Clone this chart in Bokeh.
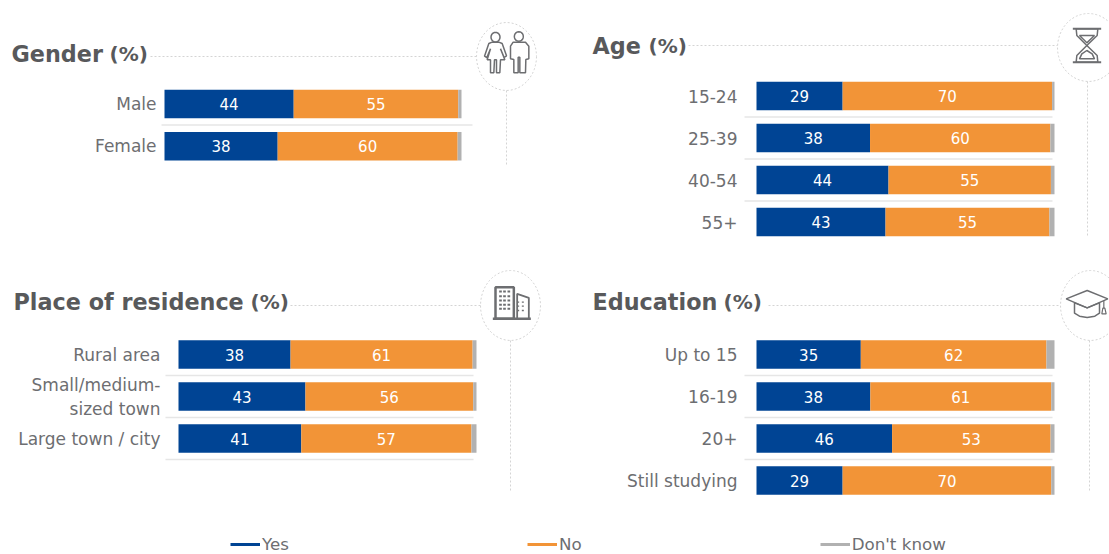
import math
from bokeh.plotting import figure
from bokeh.layouts import column, row
from bokeh.models import (ColumnDataSource, Range1d, FixedTicker, Label, Arrow,
                          Legend, LegendItem)
from bokeh.core.properties import value
from bokeh.embed import file_html
from bokeh.resources import INLINE

# ---- data -------------------------------------------------------------
gender_cats = ["Male", "Female"]
gender_yes = [43.5, 38.1]
gender_no = [55.4, 60.6]
gender_dk = [1.1, 1.3]
gender_yes_labels = ["44", "38"]
gender_no_labels = ["55", "60"]

age_cats = ["15-24", "25-39", "40-54", "55+"]
age_yes = [28.9, 38.1, 44.3, 43.3]
age_no = [70.3, 60.5, 54.5, 55.0]
age_dk = [0.8, 1.4, 1.2, 1.7]
age_yes_labels = ["29", "38", "44", "43"]
age_no_labels = ["70", "60", "55", "55"]

place_cats = ["Rural area", "Small/medium-\nsized town", "Large town / city"]
place_yes = [37.6, 42.6, 41.2]
place_no = [61.1, 56.3, 57.1]
place_dk = [1.3, 1.1, 1.7]
place_yes_labels = ["38", "43", "41"]
place_no_labels = ["61", "56", "57"]

edu_cats = ["Up to 15", "16-19", "20+", "Still studying"]
edu_yes = [35.0, 38.2, 45.5, 28.9]
edu_no = [62.3, 60.7, 53.2, 70.0]
edu_dk = [2.7, 1.1, 1.3, 1.1]
edu_yes_labels = ["35", "38", "46", "29"]
edu_no_labels = ["62", "61", "53", "70"]

series_names = ["Yes", "No", "Don't know"]
series_colors = ["#004494", "#F29437", "#B1B1B1"]

FONT = "DejaVu Sans"
TEXT = "#6D6E71"
HEAD = "#58595B"
ICON = "#6D6E71"
DOT = "#D4D4D4"
SEP = "#E6E6E6"


def panel(cats, yes, no, dk, yes_lab, no_lab, box, bar0, bar100, first_center, step, sep_left, sep_right, seps_last, standoff):
    fx0, fy0, fx1, fy1 = box
    n = len(cats)
    sc = (bar100 - bar0) / 100.0
    idx = list(range(n))
    p = figure(width=fx1 - fx0, height=fy1 - fy0, output_backend="svg", toolbar_location=None,
               x_range=Range1d((fx0 - bar0) / sc, (fx1 - bar0) / sc),
               y_range=Range1d((fy1 - first_center) / step, (fy0 - first_center) / step),
               min_border=0, outline_line_color=None)
    p.extra_x_ranges = {"px": Range1d(fx0, fx1)}
    p.extra_y_ranges = {"px": Range1d(fy1, fy0)}
    p.xaxis.visible = False
    p.grid.visible = False
    ax = p.yaxis[0]
    ax.fixed_location = (sep_left - bar0) / sc
    ax.ticker = FixedTicker(ticks=idx)
    ax.major_label_overrides = {i: c for i, c in zip(idx, cats)}
    ax.axis_line_color = None
    ax.major_tick_line_color = None
    ax.major_tick_out = 0
    ax.major_tick_in = 0
    ax.minor_tick_line_color = None
    ax.major_label_text_font = FONT
    ax.major_label_text_font_size = "17px"
    ax.major_label_text_color = TEXT
    ax.major_label_standoff = standoff

    src = ColumnDataSource(dict(i=idx, yes=yes, no=no, dk=dk, yl=yes_lab, nl=no_lab,
                                yc=[a / 2 for a in yes],
                                nc=[a + b / 2 for a, b in zip(yes, no)]))
    sep_idx = idx if seps_last else idx[:-1]
    ss = ColumnDataSource(dict(y=[i + 0.5 for i in sep_idx],
                               x0=[(sep_left - bar0) / sc] * len(sep_idx),
                               x1=[(sep_right - bar0) / sc] * len(sep_idx)))
    p.segment(x0="x0", x1="x1", y0="y", y1="y", source=ss, line_color=SEP, line_width=1.5)
    p.hbar_stack(["yes", "no", "dk"], y="i", height=28.5 / step, source=src,
                 color=series_colors, line_width=0)
    for xcol, tcol in (("yc", "yl"), ("nc", "nl")):
        p.text(x=xcol, y="i", text=tcol, source=src, text_color="white",
               text_font=value(FONT), text_font_size="15px",
               text_align="center", text_baseline="middle")
    return p


def seg(p, x0, y0, x1, y1, color=ICON, w=1.5, dash="solid"):
    p.add_layout(Arrow(end=None, x_start=x0, y_start=y0, x_end=x1, y_end=y1,
                       x_range_name="px", y_range_name="px",
                       line_color=color, line_width=w, line_dash=dash))


def poly(p, pts, fill=None, color=ICON, w=1.5, dash="solid"):
    if fill:
        p.patch(x=[a for a, _ in pts], y=[b for _, b in pts],
                x_range_name="px", y_range_name="px", line_alpha=0, line_width=0, fill_color=fill)
    else:
        p.patch(x=[a for a, _ in pts], y=[b for _, b in pts],
                x_range_name="px", y_range_name="px", line_color=color, line_width=w,
                line_dash=dash, fill_alpha=0)


def ring(cx, cy, rx, ry, k=48):
    return [(cx + rx * math.cos(2 * math.pi * i / k), cy + ry * math.sin(2 * math.pi * i / k)) for i in range(k)]


def Z(ox, oy, pts):
    return [(ox + a / 3, oy + b / 3) for a, b in pts]


def decor(p, title, tx, baseline, pct_x, line_x0, line_y, cx, cy, rx, ry, vx, v_end):
    p.add_layout(Label(x=tx, y=baseline, text=title, x_range_name="px", y_range_name="px",
                       text_font=FONT, text_font_size="22.3px", text_font_style="bold",
                       text_color=HEAD, text_baseline="alphabetic"))
    p.add_layout(Label(x=pct_x, y=baseline, text="(%)", x_range_name="px", y_range_name="px",
                       text_font=FONT, text_font_size="20px", text_font_style="bold",
                       text_color=HEAD, text_baseline="alphabetic"))
    seg(p, line_x0, line_y, cx - rx, line_y, DOT, 1, "2 2")
    seg(p, vx, cy + ry, vx, v_end, DOT, 1, "2 2")
    poly(p, ring(cx, cy, rx, ry), color=DOT, w=1, dash="2 2")


p1 = panel(gender_cats, gender_yes, gender_no, gender_dk, gender_yes_labels, gender_no_labels,
           (0, 0, 554, 262), 164, 461, 103.4, 42.3, 161, 472, False, 5)
p2 = panel(age_cats, age_yes, age_no, age_dk, age_yes_labels, age_no_labels,
           (554, 0, 1109, 262), 756, 1054, 95.5, 42, 744, 1052, False, 7)
p3 = panel(place_cats, place_yes, place_no, place_dk, place_yes_labels, place_no_labels,
           (0, 262, 554, 510), 178, 476, 354, 42, 165, 473, True, 5)
p4 = panel(edu_cats, edu_yes, edu_no, edu_dk, edu_yes_labels, edu_no_labels,
           (554, 262, 1109, 510), 756, 1054, 354, 42, 744, 1052, False, 7)

decor(p1, "Gender", 11, 53, 109, 150, 56, 506, 56, 30, 34, 506, 165)
decor(p2, "Age", 592, 45, 648, 688, 45, 1088, 47, 31, 34, 1087, 235)
decor(p3, "Place of residence", 13, 301, 250, 290, 305, 510, 305, 30, 35, 510, 492)
decor(p4, "Education", 592, 301, 723, 768, 305, 1090, 305, 30, 35, 1089, 492)

# icons -----------------------------------------------------------------
ox, oy = 470, 15
poly(p1, ring(*Z(ox, oy, [(75, 65)])[0], 4.5, 4.8, 20))
poly(p1, Z(ox, oy, [(65, 80), (55, 84), (42, 122), (49, 126), (60, 100), (50, 133), (60, 133), (60, 172), (70, 172),
                    (72, 133), (78, 133), (78, 172), (88, 172), (90, 133), (103, 133), (90, 100), (101, 126),
                    (108, 121), (95, 84), (85, 80)]))
poly(p1, ring(*Z(ox, oy, [(145, 63)])[0], 4.5, 4.8, 20))
poly(p1, Z(ox, oy, [(128, 80), (165, 80), (175, 92), (175, 130), (166, 132), (165, 172), (148, 172), (148, 125),
                    (143, 125), (143, 172), (130, 172), (130, 132), (120, 130), (120, 92)]))

ox, oy = 1049, 5
seg(p2, *Z(ox, oy, [(70, 70)])[0], *Z(ox, oy, [(155, 70)])[0], w=2)
seg(p2, *Z(ox, oy, [(70, 170)])[0], *Z(ox, oy, [(155, 170)])[0], w=2)
poly(p2, Z(ox, oy, [(80, 70), (82, 90), (112, 120), (82, 150), (80, 170), (145, 170), (143, 150), (112, 120), (143, 90), (145, 70)]))
poly(p2, Z(ox, oy, [(90, 90), (135, 90), (112, 112)]))
poly(p2, Z(ox, oy, [(90, 160), (97, 145), (112, 135), (128, 145), (135, 160)]))

ox, oy = 475, 265
poly(p3, Z(ox, oy, [(60, 65), (115, 65), (115, 160), (60, 160)]), w=2.5)
poly(p3, Z(ox, oy, [(125, 85), (160, 97), (160, 160), (125, 160)]), w=1.8)
seg(p3, *Z(ox, oy, [(52, 160)])[0], *Z(ox, oy, [(166, 160)])[0], w=2.5)
for wx in (75, 87, 100):
    for wy in (78, 92, 105, 118, 130):
        poly(p3, Z(ox, oy, [(wx - 4, wy - 3), (wx + 4, wy - 3), (wx + 4, wy + 3), (wx - 4, wy + 3)]), fill=ICON)
for wx in (128, 142):
    for wy in (110, 122, 135):
        poly(p3, Z(ox, oy, [(wx - 3, wy - 2), (wx + 3, wy - 2), (wx + 3, wy + 2), (wx - 3, wy + 2)]), fill=ICON)

ox, oy = 1049, 265
poly(p4, Z(ox, oy, [(50, 100), (113, 75), (175, 100), (113, 127)]))
poly(p4, Z(ox, oy, [(75, 112), (75, 143), (90, 152), (113, 156), (136, 152), (150, 143), (150, 112), (113, 127)]))
seg(p4, *Z(ox, oy, [(163, 105)])[0], *Z(ox, oy, [(163, 128)])[0], w=1.2)
poly(p4, Z(ox, oy, [(160, 128), (166, 128), (170, 145), (157, 145)]), w=1.2)

# legend ----------------------------------------------------------------
pl = figure(width=1109, height=44, output_backend="svg", toolbar_location=None,
            x_range=Range1d(0, 1), y_range=Range1d(0, 1), min_border=0,
            outline_line_color=None, x_axis_location=None, y_axis_location=None)
pl.grid.visible = False
items = []
for name, col in zip(series_names, series_colors):
    r = pl.line(x=[2, 3], y=[2, 3], line_color=col, line_width=3)
    items.append(LegendItem(label=name, renderers=[r]))
leg = Legend(items=items, orientation="horizontal", location=(230, 0), spacing=238,
             glyph_width=30, glyph_height=16, label_standoff=2, padding=0, margin=0,
             border_line_color=None, background_fill_alpha=0,
             label_text_font=FONT, label_text_font_size="16.7px", label_text_color=TEXT,
             label_height=16)
pl.add_layout(leg, "center")

page = column(row(p1, p2, spacing=0), row(p3, p4, spacing=0), pl, spacing=0)
open("out.html", "w").write(file_html(page, INLINE))
